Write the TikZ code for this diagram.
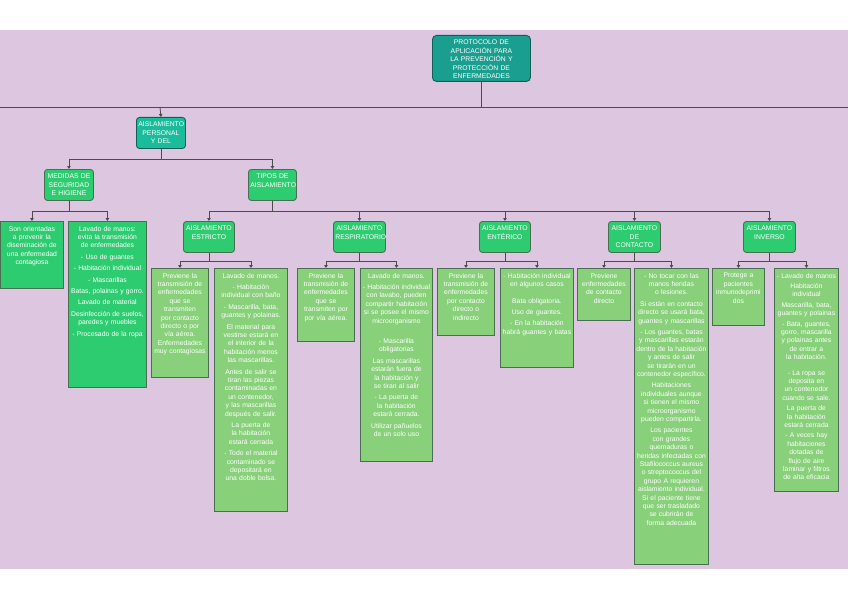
\documentclass[tikz,border=0pt]{standalone}
\usepackage{fontspec}
\setmainfont{Liberation Sans}
\usetikzlibrary{arrows.meta}
\definecolor{bgp}{HTML}{DCC6E0}
\definecolor{teal1}{HTML}{1A9E8F}
\definecolor{teal2}{HTML}{1ABC9C}
\definecolor{grn}{HTML}{2ECC71}
\definecolor{lgrn}{HTML}{88D07A}
\definecolor{bord}{HTML}{4A6E52}
\tikzset{
 box/.style={draw=bord,line width=0.9pt,anchor=north west,inner sep=0pt},
 hdr/.style={box,rounded corners=3pt,fill=grn},
 leafA/.style={box,fill=grn},
 leafB/.style={box,fill=lgrn},
 txt/.style={anchor=north,align=center,text=white,font=\fontsize{6.8}{8.4}\selectfont,inner sep=0pt},
 conn/.style={draw=black!70,line width=0.8pt,-{Triangle[width=3.5pt,length=3pt]}},
 line/.style={draw=black!70,line width=0.8pt}
}
\newcommand{\mybox}[7]{% style,name,x1,y1,x2,y2,text
 \pgfmathsetmacro{\bw}{#5-#3}\pgfmathsetmacro{\bh}{#6-#4}\pgfmathsetmacro{\tw}{#5-#3-4}
 \node[#1,minimum width=\bw pt,minimum height=\bh pt] (#2) at (#3,#4) {};
 \node[txt,text width=\tw pt] at ([yshift=-5pt]#2.north) {#7};}
\begin{document}
\hyphenpenalty=10000 \exhyphenpenalty=10000 \tolerance=9999 \hbadness=10000
\begin{tikzpicture}[x=1pt,y=-1pt]
\useasboundingbox (0,0) rectangle (848,599);
\fill[bgp] (0,30) rectangle (848,569);
% root
\mybox{box,rounded corners=4pt,fill=teal1,draw=teal1!60!black}{root}{432}{35}{530}{81}{PROTOCOLO DE APLICACIÓN PARA LA PREVENCIÓN Y PROTECCIÓN DE ENFERMEDADES}
\coordinate (busL) at (0,107); \coordinate (busR) at (848,107);
\coordinate (busP) at (160,107);
\draw[line] (busL) -- (busR);
\draw[line] (root.south) -- (root.south |- busL);
% level 1
\mybox{hdr,fill=teal2,draw=teal1!60!black}{pers}{136}{117}{185}{148}{AISLAMIENTO PERSONAL Y DEL}
\draw[conn] (busP) -- (pers.north);
\mybox{hdr}{med}{44}{169}{93}{200}{MEDIDAS DE SEGURIDAD E HIGIENE}
\mybox{hdr}{tipos}{248}{169}{296}{200}{TIPOS DE AISLAMIENTO}
\draw[conn] (pers.south) -- ++(0,10) -| (med.north);
\draw[conn] (pers.south) -- ++(0,10) -| (tipos.north);
% medidas children
\mybox{leafA}{m1}{0}{221}{63}{288}{Son orientadas a prevenir la diseminación de una enfermedad contagiosa}
\mybox{leafA}{m2}{68}{221}{146}{387}{Lavado de manos: evita la transmisión de enfermedades\\[3pt] - Uso de guantes\\[3pt] - Habitación individual\\[3pt] - Mascarillas\\[3pt] Batas, polainas y gorro.\\[3pt] Lavado de material\\[3pt] Desinfección de suelos, paredes y muebles\\[3pt] - Procesado de la ropa}
\draw[conn] (med.south) -- ++(0,10) -| (m1.north);
\draw[conn] (med.south) -- ++(0,10) -| (m2.north);
% tipos children
\mybox{hdr}{est}{183}{221}{234}{252}{AISLAMIENTO ESTRICTO}
\mybox{hdr}{resp}{333}{221}{385}{252}{AISLAMIENTO RESPIRATORIO}
\mybox{hdr}{ent}{479}{221}{530}{252}{AISLAMIENTO ENTÉRICO}
\mybox{hdr}{cont}{608}{221}{660}{252}{AISLAMIENTO DE CONTACTO}
\mybox{hdr}{inv}{743}{221}{795}{252}{AISLAMIENTO INVERSO}
\foreach \n in {est,resp,ent,cont,inv}{\draw[conn] (tipos.south) -- ++(0,10) -| (\n.north);}
% estricto
\mybox{leafB}{e1}{151}{268}{208}{377}{Previene la transmisión de enfermedades que se transmiten por contacto directo o por vía aérea. Enfermedades muy contagiosas}
\mybox{leafB}{e2}{214}{268}{287}{511}{Lavado de manos.\\[3pt] - Habitación individual con baño\\[3pt] - Mascarilla, bata, guantes y polainas.\\[3pt] El material para vestirse estará en el interior de la habitación menos las mascarillas.\\[3pt] Antes de salir se tiran las piezas contaminadas en un contenedor, y las mascarillas después de salir.\\[3pt] La puerta de la habitación estará cerrada\\[3pt] - Todo el material contaminado se depositará en una doble bolsa.}
\draw[conn] (est.south) -- ++(0,8) -| (e1.north);
\draw[conn] (est.south) -- ++(0,8) -| (e2.north);
% respiratorio
\mybox{leafB}{r1}{297}{268}{354}{341}{Previene la transmisión de enfermedades que se transmiten por por vía aérea.}
\mybox{leafB}{r2}{360}{268}{432}{461}{Lavado de manos.\\[3pt] - Habitación individual con lavabo, pueden compartir habitación si se posee el mismo microorganismo\\[12pt] - Mascarilla obligatorias\\[3pt] Las mascarillas estarán fuera de la habitación y se tiran al salir\\[3pt] - La puerta de la habitación estará cerrada.\\[3pt] Utilizar pañuelos de un solo uso}
\draw[conn] (resp.south) -- ++(0,8) -| (r1.north);
\draw[conn] (resp.south) -- ++(0,8) -| (r2.north);
% enterico
\mybox{leafB}{n1}{437}{268}{494}{335}{Previene la transmisión de enfermedades por contacto directo o indirecto}
\mybox{leafB}{n2}{500}{268}{573}{367}{- Habitación individual en algunos casos\\[8pt] Bata obligatoria.\\[3pt] Uso de guantes.\\[3pt] - En la habitación habrá guantes y batas}
\draw[conn] (ent.south) -- ++(0,8) -| (n1.north);
\draw[conn] (ent.south) -- ++(0,8) -| (n2.north);
% contacto
\mybox{leafB}{c1}{577}{268}{630}{320}{Previene enfermedades de contacto directo}
\mybox{leafB}{c2}{634}{268}{708}{564}{- No tocar con las manos heridas o lesiones.\\[3pt] Si están en contacto directo se usará bata, guantes y mascarillas\\[3pt] - Los guantes, batas y mascarillas estarán dentro de la habitación y antes de salir se tirarán en un contenedor específico.\\[3pt] Habitaciones individuales aunque si tienen el mismo microorganismo pueden compartirla.\\[3pt] Los pacientes con grandes quemaduras o heridas infectadas con Stafilococcus aureus o streptococcus del grupo A requieren aislamiento individual. Si el paciente tiene que ser trasladado se cubrirán de forma adecuada}
\draw[conn] (cont.south) -- ++(0,8) -| (c1.north);
\draw[conn] (cont.south) -- ++(0,8) -| (c2.north);
% inverso
\mybox{leafB}{i1}{712}{268}{764}{325}{Protege a pacientes inmunodeprimi dos}
\mybox{leafB}{i2}{774}{268}{838}{491}{- Lavado de manos\\[2pt] Habitación individual\\[2pt] Mascarilla, bata, guantes y polainas\\[2pt] - Bata, guantes, gorro, mascarilla y polainas antes de entrar a la habitación.\\[7pt] - La ropa se deposita en un contenedor cuando se sale.\\[2pt] La puerta de la habitación estará cerrada\\[2pt] - A veces hay habitaciones dotadas de flujo de aire laminar y filtros de alta eficacia}
\draw[conn] (inv.south) -- ++(0,8) -| (i1.north);
\draw[conn] (inv.south) -- ++(0,8) -| (i2.north);
\end{tikzpicture}
\end{document}
